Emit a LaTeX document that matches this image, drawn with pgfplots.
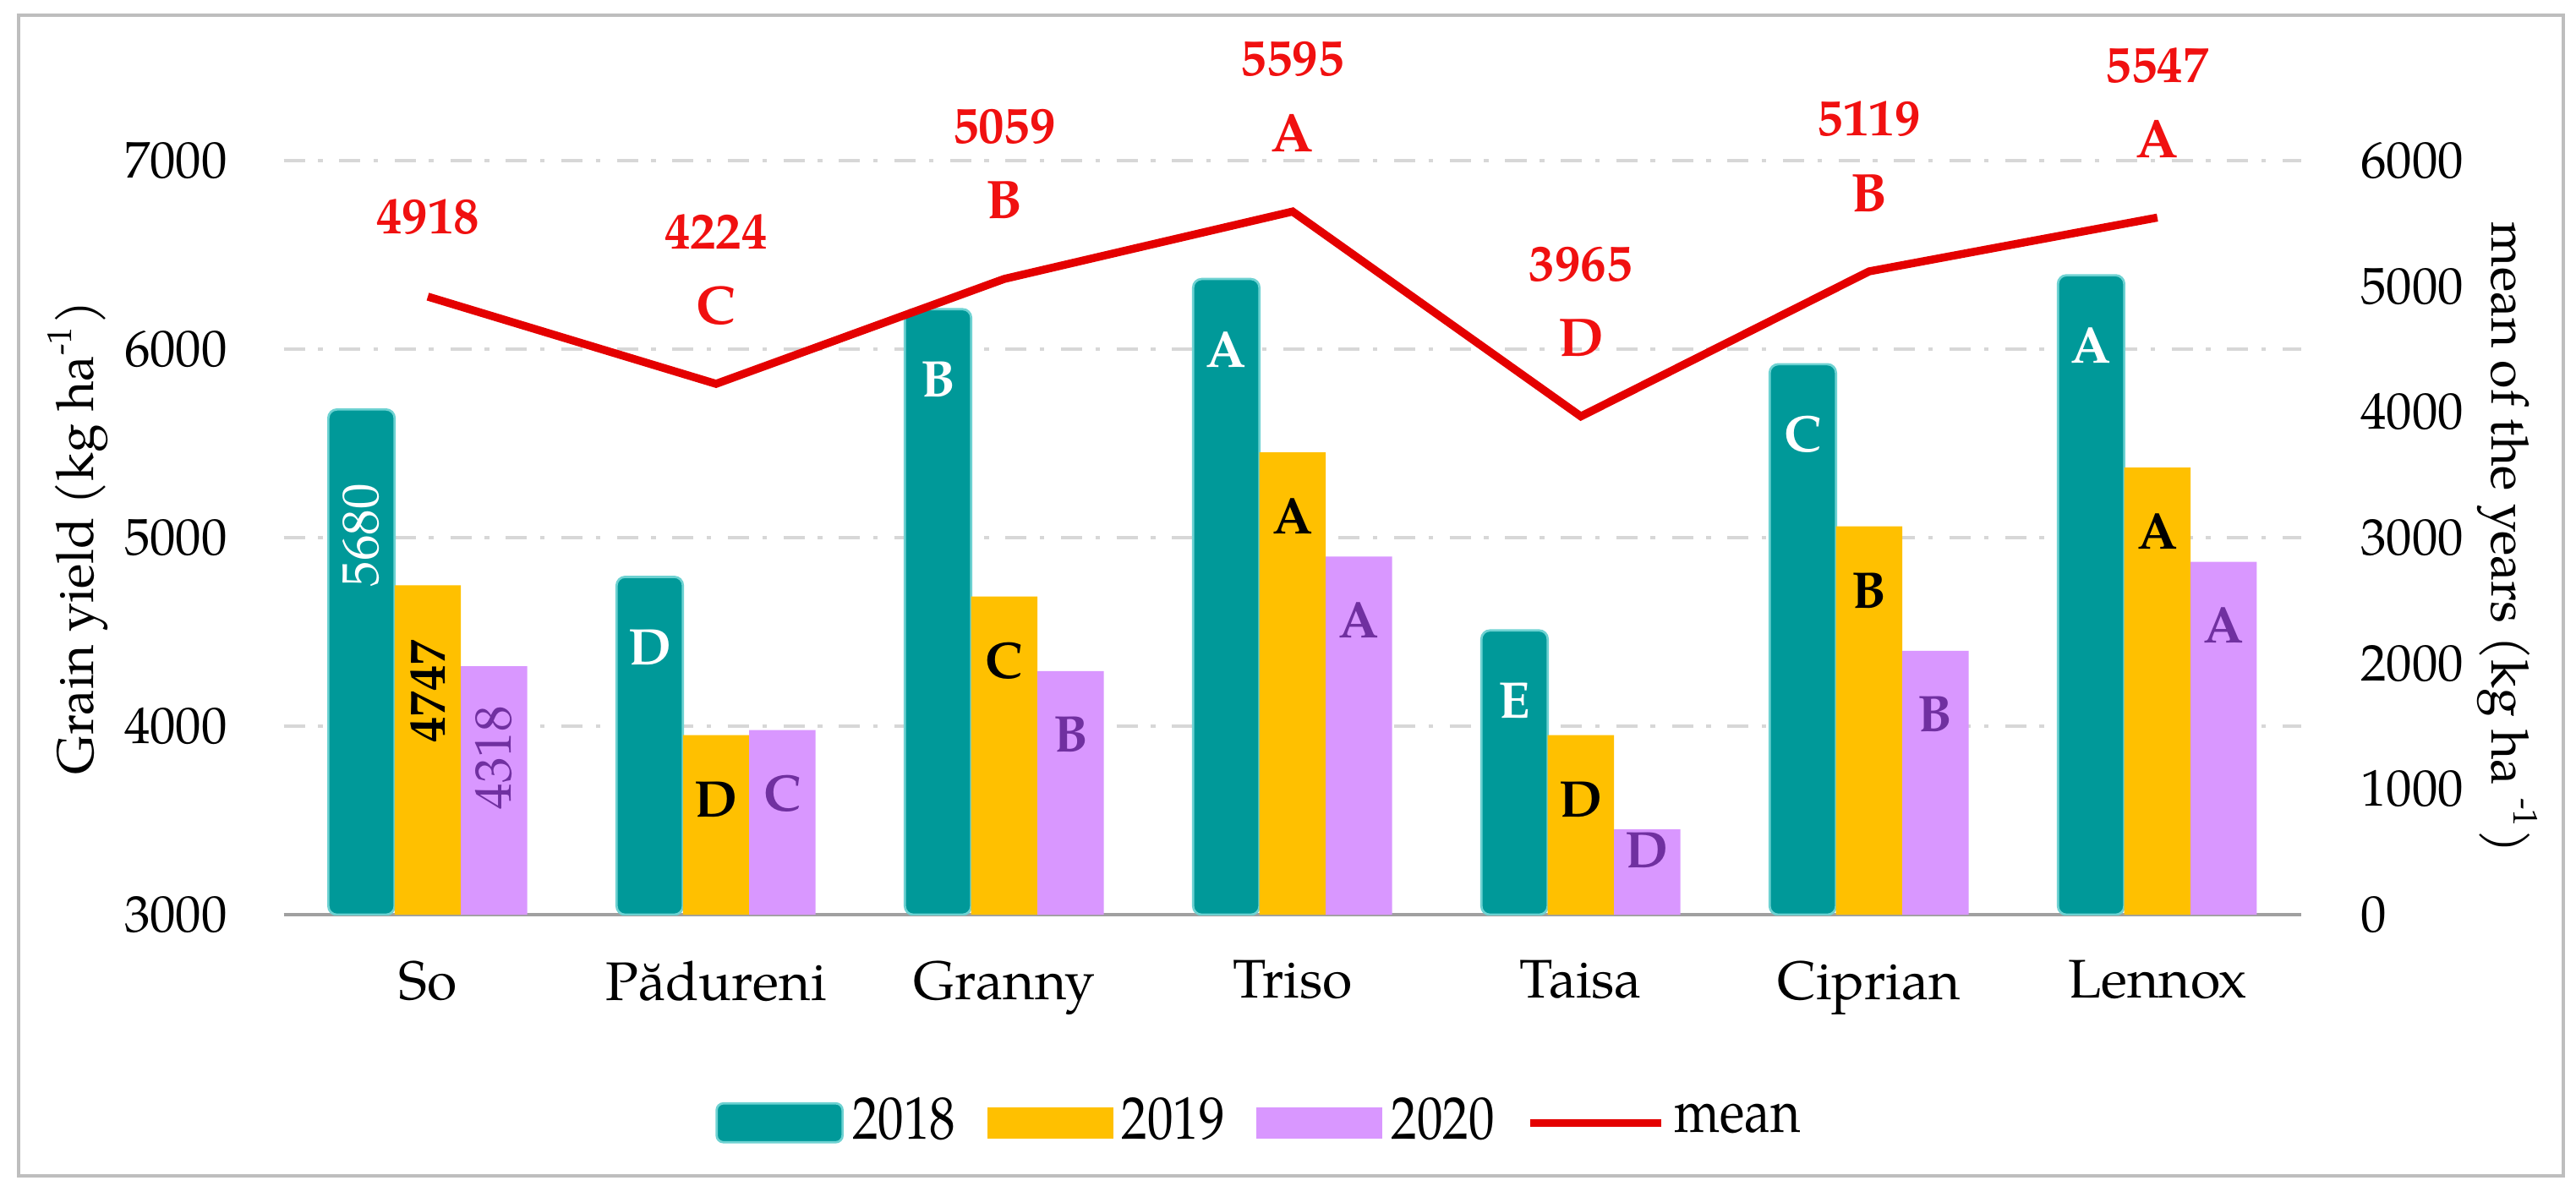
\documentclass[border=0pt]{standalone}
\usepackage{fontspec}
\setmainfont{TeX Gyre Pagella}
\newfontfamily\legendfont[FakeStretch=0.86]{TeX Gyre Pagella}
\usepackage{pgfplots}
\pgfplotsset{compat=1.18}
\usepackage{pgfplotstable}

\definecolor{teal18}{RGB}{0,153,153}
\definecolor{tealedge}{RGB}{110,210,210}
\definecolor{gold19}{RGB}{255,192,0}
\definecolor{vio20}{RGB}{217,151,255}
\definecolor{purp}{RGB}{112,48,160}
\definecolor{meanred}{RGB}{228,0,0}
\definecolor{labred}{RGB}{240,16,16}
\definecolor{gridg}{RGB}{215,215,215}
\definecolor{axisg}{RGB}{160,160,160}
\definecolor{frameg}{RGB}{190,190,190}

% 2018
\pgfplotstableread{
x y lab dy rot
0 5680 {\mdseries 5680} -22 90
1 4792 D -12.3 0
2 6212 B -12.3 0
3 6372 A -12.3 0
4 4508 E -12.3 0
5 5920 C -12.3 0
6 6392 A -12.3 0
}\tabA
% 2019
\pgfplotstableread{
x y lab dy rot
0 4747 4747 -18.5 90
1 3952 D -11.2 0
2 4688 C -11.2 0
3 5452 A -11.2 0
4 3952 D -11.2 0
5 5060 B -11.2 0
6 5372 A -11.2 0
}\tabB
% 2020
\pgfplotstableread{
x y lab dy rot
0 4318 {\mdseries 4318} -16 90
1 3980 C -11.1 0
2 4292 B -11.1 0
3 4900 A -11.1 0
4 3452 D -3.7 0
5 4400 B -11.1 0
6 4872 A -11.1 0
}\tabC
% mean of the years
\pgfplotstableread{
x y num dy
0 4918 4918 14
1 4224 4224 26.6
2 5059 5059 26.6
3 5595 5595 26.6
4 3965 3965 26.6
5 5119 5119 26.6
6 5547 5547 26.6
}\tabM
\pgfplotstableread{
x y let
1 4224 C
2 5059 B
3 5595 A
4 3965 D
5 5119 B
6 5547 A
}\tabL

\pgfplotsset{
  barlab/.style={
    nodes near coords, point meta=explicit symbolic,
    visualization depends on={\thisrow{dy}\as\dy},
    visualization depends on={\thisrow{rot}\as\rot},
    every node near coord/.append style={anchor=center, xshift=#1, yshift=\dy pt, rotate=\rot,
      font=\bfseries\fontsize{9}{10}\selectfont, inner sep=0pt}
  },
}

\begin{document}
\begin{tikzpicture}
\useasboundingbox (0pt,0pt) rectangle (450pt,207.06pt);
\draw[frameg, line width=0.6pt] (3.25pt,1.62pt) rectangle (447.8pt,204.4pt);

\begin{axis}[
  at={(49.55pt,47.26pt)}, anchor=south west,
  scale only axis, width=352.5pt, height=131.74pt,
  xmin=-0.5, xmax=6.5, ymin=3000, ymax=7000,
  ytick={3000,4000,5000,6000,7000},
  xtick={0,1,2,3,4,5,6},
  xticklabels={So,Pădureni,Granny,Triso,Taisa,Ciprian,Lennox},
  axis x line*=bottom, axis y line*=left,
  x axis line style={-, draw=axisg, line width=0.7pt},
  y axis line style={draw=none},
  tick style={draw=none},
  ymajorgrids,
  grid style={gridg, line width=0.7pt, dash pattern=on 3.7pt off 2.3pt on 0.8pt off 2.9pt},
  scaled y ticks=false,
  /pgf/number format/assume math mode=true,
  /pgf/number format/1000 sep={},
  yticklabel style={font=\fontsize{9}{10}\selectfont, xshift=-6.3pt},
  xticklabel style={font=\fontsize{9.5}{11}\selectfont, yshift=-4.5pt},
  ylabel={Grain yield (kg ha\textsuperscript{-1})},
  ylabel style={at={(axis description cs:-0.102,0.5)}, anchor=center, font=\fontsize{9}{10}\selectfont},
  legend columns=4,
  legend style={at={(0.485,-0.276)}, anchor=center, draw=none, fill=none,
    font=\legendfont\fontsize{10.5}{12}\selectfont,
    nodes={inner xsep=1.5pt, inner ysep=1pt},
    /tikz/every even column/.append style={column sep=4pt}},
]
\addplot[ybar, bar width=0.23, bar shift=-0.23, fill=teal18, draw=tealedge, line width=0.4pt,
  rounded corners=1.5pt, barlab=-11.58pt,
  every node near coord/.append style={text=white},
  legend image code/.code={\fill[teal18, draw=tealedge, line width=0.4pt, rounded corners=1.2pt] (0pt,-3.4pt) rectangle (22pt,3.4pt);}]
  table[x=x, y=y, meta=lab]{\tabA};
\addplot[ybar, bar width=0.23, bar shift=0, fill=gold19, draw=none, barlab=0pt,
  every node near coord/.append style={text=black},
  legend image code/.code={\fill[gold19] (0pt,-2.7pt) rectangle (22pt,2.7pt);}]
  table[x=x, y=y, meta=lab]{\tabB};
\addplot[ybar, bar width=0.23, bar shift=0.23, fill=vio20, draw=none, barlab=11.58pt,
  every node near coord/.append style={text=purp},
  legend image code/.code={\fill[vio20] (0pt,-2.7pt) rectangle (22pt,2.7pt);}]
  table[x=x, y=y, meta=lab]{\tabC};
\addlegendimage{meanred, line width=1.4pt, legend image code/.code={\draw[meanred, line width=1.4pt] (0pt,0pt) -- (23pt,0pt);}}
\legend{2018,2019,2020,mean}
\end{axis}

\begin{axis}[
  at={(49.55pt,47.26pt)}, anchor=south west,
  scale only axis, width=352.5pt, height=131.74pt,
  xmin=-0.5, xmax=6.5, ymin=0, ymax=6000,
  ytick={0,1000,2000,3000,4000,5000,6000},
  axis x line=none, axis y line*=right,
  y axis line style={draw=none},
  tick style={draw=none},
  scaled y ticks=false,
  /pgf/number format/assume math mode=true,
  /pgf/number format/1000 sep={},
  yticklabel style={font=\fontsize{9}{10}\selectfont, xshift=6.8pt},
  ylabel={mean of the years (kg ha \textsuperscript{-1})},
  ylabel style={at={(axis description cs:1.102,0.5)}, anchor=center, rotate=180, font=\fontsize{9}{10}\selectfont},
  clip=false,
]
\addplot[meanred, line width=1.4pt, mark=none] table[x=x, y=y]{\tabM};
\addplot[draw=none, mark=none, nodes near coords, point meta=explicit symbolic,
  visualization depends on={\thisrow{dy}\as\dy},
  every node near coord/.append style={anchor=center, yshift=\dy pt, text=labred,
    font=\bfseries\fontsize{9}{10}\selectfont, inner sep=0pt}]
  table[x=x, y=y, meta=num]{\tabM};
\addplot[draw=none, mark=none, nodes near coords, point meta=explicit symbolic,
  every node near coord/.append style={anchor=center, yshift=13.7pt, text=labred,
    font=\bfseries\fontsize{9.5}{10}\selectfont, inner sep=0pt}]
  table[x=x, y=y, meta=let]{\tabL};
\end{axis}
\end{tikzpicture}
\end{document}
